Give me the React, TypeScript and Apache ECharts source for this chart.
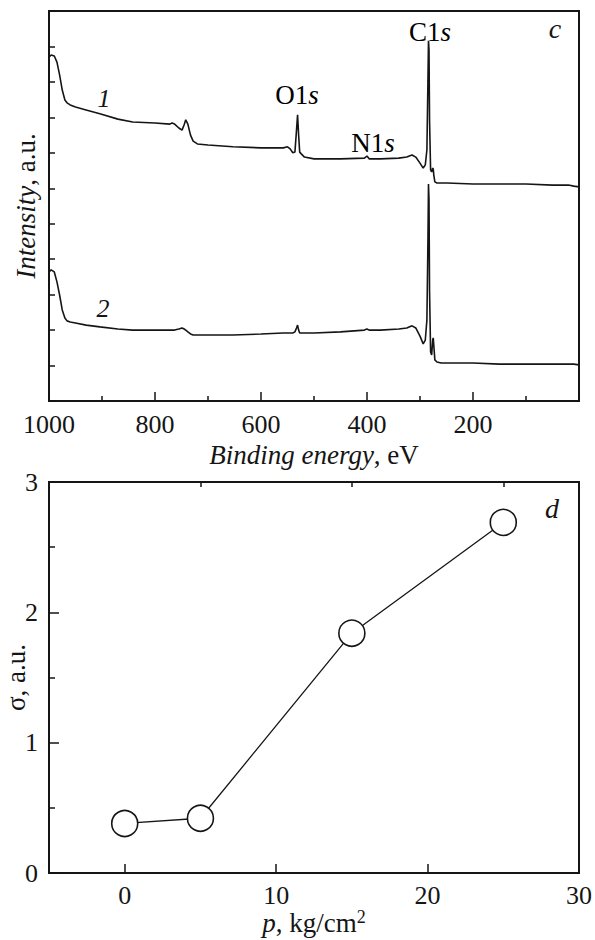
import React, { useEffect, useRef } from "react";
import * as echarts from "echarts";

// ---- Data ----
// XPS survey spectra: binding energy (eV) and intensities (a.u., offset scale)
const energy = [
  1000, 996, 990, 985, 980, 975, 970, 966, 960, 950,
  930, 904, 870, 842, 800, 772, 768, 763, 755, 749,
  745, 742, 738, 733, 728, 720, 700, 653, 600, 558,
  550, 545, 540, 536, 533, 531, 529, 527, 524, 518,
  500, 450, 405, 400, 396, 375, 340, 325, 315, 308,
  300, 294, 290, 287, 285, 284, 283, 282, 280, 278,
  276, 275, 274, 272, 268, 260, 249, 200, 150, 100,
  50, 20, 10, 0,
];
const curve1 = [
  9.7, 9.76, 9.73, 9.56, 9.2, 8.77, 8.49, 8.41, 8.35, 8.29,
  8.21, 8.1, 7.95, 7.87, 7.84, 7.81, 7.84, 7.81, 7.7, 7.64,
  7.79, 7.93, 7.81, 7.5, 7.33, 7.25, 7.22, 7.17, 7.14, 7.14,
  7.17, 7.11, 7.0, 7.02, 7.64, 8.07, 7.5, 7.02, 6.97, 6.88,
  6.83, 6.83, 6.85, 6.91, 6.83, 6.83, 6.85, 6.88, 6.94, 6.88,
  6.71, 6.57, 6.66, 7.08, 9.05, 10.16, 9.9, 7.93, 6.52, 6.46,
  6.57, 6.54, 6.38, 6.18, 6.15, 6.15, 6.15, 6.12, 6.12, 6.12,
  6.09, 6.09, 6.06, 6.04,
];
const curve2 = [
  3.64, 3.7, 3.64, 3.36, 2.99, 2.57, 2.34, 2.26, 2.23, 2.2,
  2.14, 2.09, 2.03, 2.0, 2.0, 2.0, 2.0, 2.0, 2.03, 2.06,
  2.03, 2.0, 1.95, 1.89, 1.86, 1.86, 1.86, 1.86, 1.89, 1.92,
  1.92, 1.92, 1.92, 1.95, 2.06, 2.14, 2.0, 1.92, 1.92, 1.92,
  1.92, 1.95, 2.0, 2.03, 2.0, 2.0, 2.03, 2.06, 2.12, 2.06,
  1.83, 1.61, 1.72, 2.28, 4.54, 6.12, 5.67, 3.13, 1.38, 1.3,
  1.72, 1.78, 1.58, 1.16, 1.1, 1.07, 1.07, 1.07, 1.04, 1.04,
  1.04, 1.04, 1.04, 1.02,
];

// sigma vs pressure
const pressure = [0, 5, 15, 25];
const sigma = [0.38, 0.42, 1.84, 2.69];

const energyLabels = [200, 400, 600, 800, 1000];
const pressureLabels = [0, 10, 20, 30];
const pressureMajorTicks = [0, 10, 20];
const pressureMinorTicks = [5, 15, 25];

const FONT = "Liberation Serif";
const INK = "#151515";

export default function App() {
  const ref = useRef<HTMLDivElement>(null);

  useEffect(() => {
    if (!ref.current) return;
    const chart = echarts.init(ref.current, null, { renderer: "svg" });

    const labelStyle = { fontFamily: FONT, fontSize: 26, color: INK };
    const rich = {
      i: { fontFamily: FONT, fontSize: 27, fontStyle: "italic", color: INK },
      n: { fontFamily: FONT, fontSize: 27, color: INK },
      sup: { fontFamily: FONT, fontSize: 18, color: INK, padding: [0, 0, 12, 0] },
    };
    const nameStyle = { fontFamily: FONT, fontSize: 27, color: INK, rich };
    const tickLine = { color: INK, width: 1.5 };

    const option: any = {
      animation: false,
      backgroundColor: "#ffffff",
      textStyle: { fontFamily: FONT },
      grid: [
        { left: 49, top: 11, width: 530, height: 390, containLabel: false, outerBoundsMode: "none", show: true, borderColor: INK, borderWidth: 2, backgroundColor: "transparent" },
        { left: 49, top: 482, width: 530, height: 391, containLabel: false, outerBoundsMode: "none", show: true, borderColor: INK, borderWidth: 2, backgroundColor: "transparent" },
      ],
      xAxis: [
        {
          gridIndex: 0,
          type: "value",
          min: 0,
          max: 1000,
          interval: 200,
          inverse: true,
          axisLine: { onZero: false, lineStyle: { color: INK, width: 2 } },
          axisTick: { inside: true, length: 9, lineStyle: tickLine },
          minorTick: { show: true, splitNumber: 2, length: 5, lineStyle: tickLine },
          splitLine: { show: false },
          minorSplitLine: { show: false },
          axisLabel: {
            ...labelStyle,
            margin: 10,
            showMinLabel: true,
            showMaxLabel: true,
            formatter: (v: number) => (energyLabels.includes(v) ? String(v) : ""),
          },
          name: "{i|Binding energy}{n|, eV}",
          nameLocation: "middle",
          nameGap: 40,
          nameMoveOverlap: false,
          nameTextStyle: nameStyle,
        },
        {
          gridIndex: 1,
          type: "value",
          min: -5,
          max: 30,
          axisLine: { onZero: false, lineStyle: { color: INK, width: 2 } },
          axisTick: { inside: true, length: 9, lineStyle: tickLine, customValues: pressureMajorTicks },
          splitLine: { show: false },
          axisLabel: { ...labelStyle, margin: 9, showMinLabel: true, showMaxLabel: true, customValues: pressureLabels },
          name: "{i|p}{n|, kg/cm}{sup|2}",
          nameLocation: "middle",
          nameGap: 35,
          nameMoveOverlap: false,
          nameTextStyle: nameStyle,
        },
        {
          gridIndex: 1,
          type: "value",
          min: -5,
          max: 30,
          axisLine: { show: false, onZero: false },
          axisTick: { inside: true, length: 5, lineStyle: tickLine, customValues: pressureMinorTicks },
          splitLine: { show: false },
          axisLabel: { show: false },
        },
      ],
      yAxis: [
        {
          gridIndex: 0,
          type: "value",
          min: 0,
          max: 11,
          interval: 1,
          position: "left",
          axisLine: { show: true, onZero: false, lineStyle: { color: INK, width: 2 } },
          axisTick: { show: true, inside: true, length: 6, lineStyle: tickLine },
          splitLine: { show: false },
          axisLabel: { show: false },
          name: "{i|Intensity}{n|, a.u.}",
          nameLocation: "middle",
          nameGap: 10,
          nameMoveOverlap: false,
          nameTextStyle: nameStyle,
        },
        {
          gridIndex: 1,
          type: "value",
          min: 0,
          max: 3,
          interval: 1,
          position: "left",
          axisLine: { show: true, onZero: false, lineStyle: { color: INK, width: 2 } },
          axisTick: { show: true, inside: true, length: 10, lineStyle: tickLine },
          minorTick: { show: true, splitNumber: 2, length: 6, lineStyle: tickLine },
          splitLine: { show: false },
          minorSplitLine: { show: false },
          axisLabel: { ...labelStyle, margin: 11, showMinLabel: true, showMaxLabel: true },
          name: "{n|σ, a.u.}",
          nameLocation: "middle",
          nameGap: 20,
          nameMoveOverlap: false,
          nameTextStyle: nameStyle,
        },
      ],
      series: [
        {
          type: "line",
          xAxisIndex: 0,
          yAxisIndex: 0,
          showSymbol: false,
          symbol: "none",
          lineStyle: { color: INK, width: 1.6 },
          data: energy.map((e, i) => [e, curve1[i]]),
        },
        {
          type: "line",
          xAxisIndex: 0,
          yAxisIndex: 0,
          showSymbol: false,
          symbol: "none",
          lineStyle: { color: INK, width: 1.6 },
          data: energy.map((e, i) => [e, curve2[i]]),
        },
        {
          type: "line",
          xAxisIndex: 1,
          yAxisIndex: 1,
          symbol: "circle",
          symbolSize: 26,
          clip: false,
          itemStyle: { color: "#ffffff", borderColor: INK, borderWidth: 1.6 },
          lineStyle: { color: INK, width: 1.3 },
          data: pressure.map((p, i) => [p, sigma[i]]),
        },
      ],
      graphic: [
        { type: "text", x: 104, y: 98, style: { text: "1", fontFamily: FONT, fontSize: 26, fontStyle: "italic", fill: INK, align: "center", verticalAlign: "middle" } },
        { type: "text", x: 103, y: 308, style: { text: "2", fontFamily: FONT, fontSize: 26, fontStyle: "italic", fill: INK, align: "center", verticalAlign: "middle" } },
        { type: "text", x: 297, y: 95, style: { text: "{n|O1}{i|s}", align: "center", verticalAlign: "middle", rich } },
        { type: "text", x: 373, y: 143, style: { text: "{n|N1}{i|s}", align: "center", verticalAlign: "middle", rich } },
        { type: "text", x: 430, y: 32, style: { text: "{n|C1}{i|s}", align: "center", verticalAlign: "middle", rich } },
        { type: "text", x: 555, y: 28, style: { text: "c", fontFamily: FONT, fontSize: 28, fontStyle: "italic", fill: INK, align: "center", verticalAlign: "middle" } },
        { type: "text", x: 552, y: 508, style: { text: "d", fontFamily: FONT, fontSize: 28, fontStyle: "italic", fill: INK, align: "center", verticalAlign: "middle" } },
      ],
    };

    chart.setOption(option);
    return () => chart.dispose();
  }, []);

  return (
    <div
      ref={ref}
      style={{ position: "fixed", left: 0, top: 0, width: 595, height: 940, background: "#fff" }}
    />
  );
}
